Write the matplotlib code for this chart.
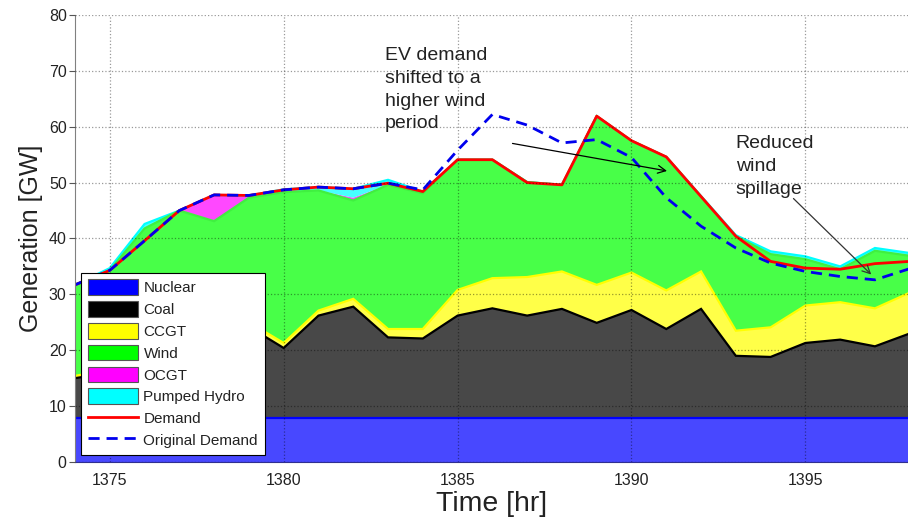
import matplotlib
matplotlib.use("Agg")
import matplotlib.pyplot as plt
import numpy as np
from matplotlib.patches import Patch
from matplotlib.lines import Line2D

plt.rcParams["font.family"] = ["Liberation Sans", "DejaVu Sans"]

hours = list(range(1374, 1399))

nuclear = [7.8] * 25
coal = [7.2, 8.2, 10.7, 13.2, 15.2, 16.4, 12.6, 18.4, 20.0, 14.5, 14.3, 18.4, 19.7,
        18.4, 19.6, 17.1, 19.4, 16.0, 19.6, 11.2, 11.0, 13.5, 14.1, 12.9, 15.2]
ccgt = [0.4, 0.6, 0.7, 0.8, 0.8, 0.8, 0.9, 0.9, 1.4, 1.5, 1.7, 4.6, 5.4,
        6.9, 6.7, 6.8, 6.7, 6.9, 6.7, 4.5, 5.3, 6.7, 6.7, 6.8, 7.3]
wind = [16.3, 17.7, 22.6, 23.2, 19.3, 22.3, 27.0, 21.5, 17.6, 25.8, 24.3, 23.3, 21.2,
        17.0, 15.5, 30.2, 23.6, 23.9, 13.4, 16.9, 13.1, 8.3, 5.9, 10.3, 6.6]
ocgt = [0, 0, 0, 0, 4.7, 0.2, 0, 0, 0.5, 0, 0, 0, 0,
        0, 0, 0, 0, 0, 0, 0, 0, 0, 0, 0, 0]
hydro = [0, 0.4, 0.8, 0, 0, 0.2, 0.5, 0.6, 1.6, 0.9, 0.3, 0, 0,
         0, 0, 0, 0, 0, 0.1, 0.2, 0.5, 0.5, 0.5, 0.5, 0.5]
demand = [31.7, 34.3, 39.6, 45.0, 47.8, 47.7, 48.7, 49.2, 48.9, 49.9, 48.4, 54.1, 54.1,
          50.0, 49.6, 61.9, 57.5, 54.6, 47.5, 40.4, 35.9, 34.7, 34.5, 35.5, 35.9]
original_demand = [31.7, 34.3, 39.6, 45.0, 47.8, 47.7, 48.7, 49.2, 48.9, 49.9, 48.7, 55.8, 62.2,
                   60.3, 57.1, 57.7, 54.5, 47.3, 42.2, 38.3, 35.6, 34.1, 33.2, 32.6, 34.6]

names = ["Nuclear", "Coal", "CCGT", "Wind", "OCGT", "Pumped Hydro"]
pure = ["#0000ff", "#000000", "#ffff00", "#00ff00", "#ff00ff", "#00ffff"]
fills = ["#4848ff", "#484848", "#ffff48", "#48ff48", "#ff48ff", "#48ffff"]
edges = ["#0000ff", "#000000", "#ffff00", "#40f040", None, "#00ffff"]

fig = plt.figure(figsize=(9.08, 5.17), dpi=100)
ax = fig.add_axes([0.0826, 0.1064, 0.9174, 0.8646])

layers = [nuclear, coal, ccgt, wind, ocgt, hydro]
ax.stackplot(hours, *layers, colors=fills, linewidth=0)
tops = np.cumsum(np.array(layers, dtype=float), axis=0)
for i in [5, 3, 2, 1, 0]:
    ax.plot(hours, tops[i], color=edges[i], lw=1.6, solid_joinstyle="miter")

ax.plot(hours, demand, color="#ff0000", lw=2)
ax.plot(hours, original_demand, color="#0000ee", lw=2, linestyle=(0, (4, 2.5)))

ax.set_xlim(1374, 1397.95)
ax.set_ylim(0, 80)
ax.set_xticks([1375, 1380, 1385, 1390, 1395])
ax.set_yticks(range(0, 81, 10))
ax.grid(True, linestyle=":", color="k", alpha=0.4, lw=0.9)
ax.set_axisbelow(False)
for s in ["top", "right"]:
    ax.spines[s].set_visible(False)
ax.spines["left"].set_color("#808080")
ax.spines["bottom"].set_color("#303090")
ax.tick_params(axis="x", length=0, pad=8, labelsize=11.5, labelcolor="#222222")
ax.tick_params(axis="y", length=4, color="#555555", pad=2, labelsize=11.5, labelcolor="#222222")

ax.set_xlabel("Time [hr]", fontsize=20.5, color="#222222", labelpad=2)
ax.set_ylabel("Generation [GW]", fontsize=18, color="#222222", labelpad=4)

ax.text(1382.9, 74.3, "EV demand\nshifted to a\nhigher wind\nperiod", fontsize=14,
        va="top", ha="left", color="#222222", linespacing=1.45)
ax.annotate("", xy=(1391.1, 52.0), xytext=(1386.5, 57.1),
            arrowprops=dict(arrowstyle="->", color="k", lw=0.9, mutation_scale=14))
ax.text(1393.0, 58.5, "Reduced\nwind\nspillage", fontsize=14,
        va="top", ha="left", color="#222222", linespacing=1.45)
ax.annotate("", xy=(1396.95, 33.2), xytext=(1394.6, 47.5),
            arrowprops=dict(arrowstyle="->", color="#333333", lw=0.9, mutation_scale=14))

handles = [Patch(facecolor=c, edgecolor="#555555", lw=0.8) for c in pure]
handles += [Line2D([], [], color="#ff0000", lw=2),
            Line2D([], [], color="#0000ee", lw=2, linestyle=(0, (4, 2.5)))]
leg = ax.legend(handles, names + ["Demand", "Original Demand"], loc="lower left",
                bbox_to_anchor=(0.007, 0.016), borderaxespad=0, fontsize=11,
                handlelength=3.3, handleheight=1.2, labelspacing=0.38,
                handletextpad=0.35, borderpad=0.45, fancybox=False, framealpha=1)
leg.get_frame().set_edgecolor("k")
leg.get_frame().set_linewidth(0.8)
for t in leg.get_texts():
    t.set_color("#222222")

fig.savefig("out.png", dpi=100)
